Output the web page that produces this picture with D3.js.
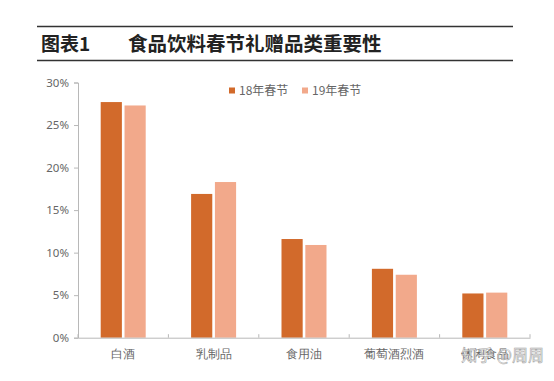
<!DOCTYPE html>
<html><head><meta charset="utf-8">
<script src="https://cdn.jsdelivr.net/npm/d3@7"></script>
<style>
html,body{margin:0;padding:0;background:#fff;}
svg{display:block;font-family:"Noto Sans CJK SC","Noto Sans",sans-serif;}
</style></head>
<body><svg id="c" width="554" height="381"></svg>
<script>
const categories = ["白酒", "乳制品", "食用油", "葡萄酒烈酒", "休闲食品"];
const seriesNames = ["18年春节", "19年春节"];
const values18 = [27.7, 16.9, 11.6, 8.1, 5.2];
const values19 = [27.3, 18.3, 10.9, 7.4, 5.3];
const yTicks = [0, 5, 10, 15, 20, 25, 30];
const colors = ["#d26a2b", "#f2a98b"];

(function () {
const svg = d3.select("#c");

// Title block
svg.append("line").attr("x1", 37).attr("x2", 513).attr("y1", 26.5).attr("y2", 26.5).attr("stroke", "#333").attr("stroke-width", 1.5);
svg.append("line").attr("x1", 37).attr("x2", 513).attr("y1", 60.5).attr("y2", 60.5).attr("stroke", "#333").attr("stroke-width", 1.5);
svg.append("text").attr("x", 41).attr("y", 51).attr("font-size", 19).attr("font-weight", 700).attr("fill", "#222").text("图表1");
svg.append("text").attr("x", 128).attr("y", 51).attr("font-size", 19.5).attr("font-weight", 700).attr("fill", "#222").text("食品饮料春节礼赠品类重要性");

const pLeft = 78, pRight = 530, pTop = 82.5, pBottom = 337.7;
const x0 = d3.scaleBand().domain(categories).range([pLeft, pRight]).paddingInner(0).paddingOuter(0);
const x1 = d3.scaleBand().domain(seriesNames).range([0, 45]).paddingInner(0.111).paddingOuter(0);
const y = d3.scaleLinear().domain([0, 30]).range([pBottom, pTop]);

// y axis
const yAxis = d3.axisLeft(y).tickValues(yTicks).tickSize(4).tickPadding(5).tickFormat(d => d + "%");
const ga = svg.append("g").attr("transform", `translate(${pLeft},0)`).call(yAxis);
ga.select(".domain").attr("stroke", "#b8b8b8");
ga.selectAll(".tick line").attr("stroke", "#b8b8b8");
ga.selectAll(".tick text").attr("fill", "#666").attr("font-size", 11.5).attr("font-family", "'Noto Sans','Liberation Sans',sans-serif");

// bars
const data = categories.map((c, i) => ({c, v: [values18[i], values19[i]]}));
const groups = svg.append("g").selectAll("g").data(data).join("g")
  .attr("transform", d => `translate(${x0(d.c) + x0.bandwidth() / 2 - 22.5},0)`);
groups.selectAll("rect").data(d => d.v.map((v, j) => ({s: seriesNames[j], v, j}))).join("rect")
  .attr("x", d => x1(d.s)).attr("width", x1.bandwidth())
  .attr("y", d => y(d.v)).attr("height", d => pBottom - y(d.v))
  .attr("fill", d => colors[d.j]);

// x axis
const xAxis = d3.axisBottom(x0).tickSize(0).tickPadding(10);
const gx = svg.append("g").attr("transform", `translate(0,${pBottom})`).call(xAxis);
gx.select(".domain").attr("stroke", "#b8b8b8");
gx.selectAll(".tick text").attr("fill", "#666").attr("font-size", 12).attr("dy", "0.9em");
// boundary tick marks
const bounds = categories.map(c => x0(c) + x0.bandwidth()).concat([pLeft]);
svg.append("g").selectAll("line").data(bounds).join("line")
  .attr("x1", d => d).attr("x2", d => d).attr("y1", pBottom - 3.5).attr("y2", pBottom)
  .attr("stroke", "#b8b8b8");

// legend
const legX = [229, 302];
seriesNames.forEach((s, i) => {
  svg.append("rect").attr("x", legX[i]).attr("y", 87.5).attr("width", 6).attr("height", 6).attr("fill", colors[i]);
  svg.append("text").attr("x", legX[i] + 10).attr("y", 95).attr("font-size", 12).attr("fill", "#666").text(s);
});

// watermark
svg.append("text").attr("x", 544).attr("y", 361).attr("text-anchor", "end").attr("font-size", 16)
  .attr("fill", "#fff").attr("stroke", "#9a9a9a").attr("stroke-width", 0.6).attr("opacity", 0.9).text("知乎 @周周");
})();
</script>
</body></html>
